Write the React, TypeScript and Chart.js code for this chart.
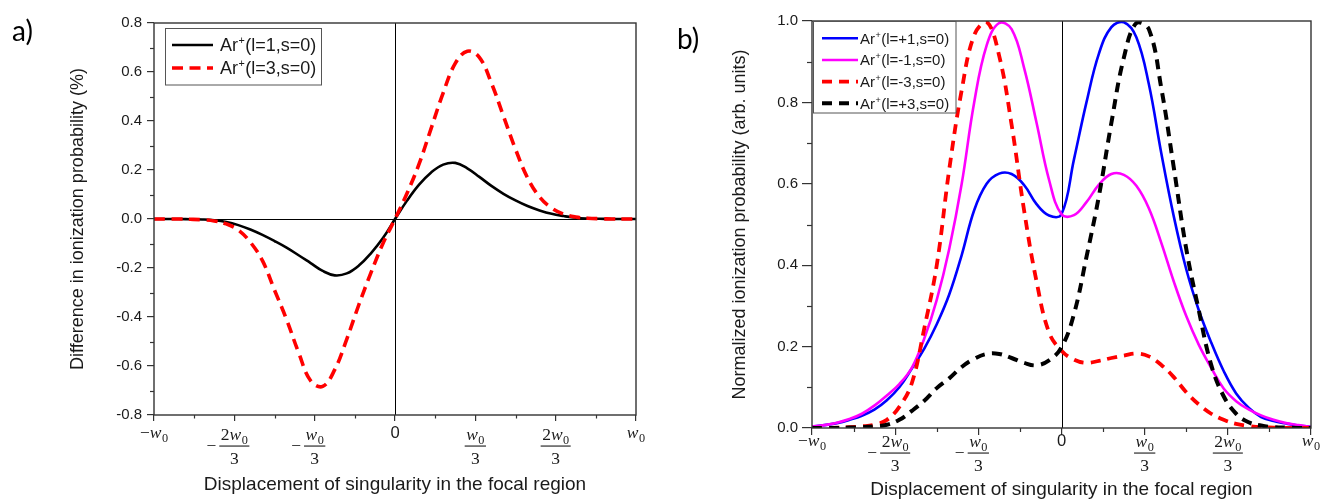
import React, { useEffect, useRef } from 'react';
import { Chart, registerables } from 'chart.js';

Chart.register(...registerables);

// ---------------- data ----------------
const X_VALUES = [
  -1, -0.95, -0.9, -0.85, -0.8, -0.75, -0.7, -0.65, -0.6, -0.55, -0.5, -0.45, -0.4, -0.35, -0.3, -0.25, -0.2, -0.15, -0.1, -0.05,
  0, 0.05, 0.1, 0.15, 0.2, 0.25, 0.3, 0.35, 0.4, 0.45, 0.5, 0.55, 0.6, 0.65, 0.7, 0.75, 0.8, 0.85, 0.9, 0.95, 1,
];

// x tick positions (units of w0) and their labels (sign, numerator, denominator)
const X_TICKS = [-1, -2 / 3, -1 / 3, 0, 1 / 3, 2 / 3, 1];
const X_TICK_SIGN = ['−', '−', '−', '', '', '', ''];
const X_TICK_NUM = ['w0', '2w0', 'w0', '0', 'w0', '2w0', 'w0'];
const X_TICK_DEN = ['', '3', '3', '', '3', '3', ''];

const A_Y_TICKS = [-0.8, -0.6, -0.4, -0.2, 0, 0.2, 0.4, 0.6, 0.8];
const B_Y_TICKS = [0, 0.2, 0.4, 0.6, 0.8, 1.0];

const X_TITLE = 'Displacement of singularity in the focal region';
const A_Y_TITLE = 'Difference in ionization probability (%)';
const B_Y_TITLE = 'Normalized ionization probability (arb. units)';

const A_LABELS = ['Ar+(l=1,s=0)', 'Ar+(l=3,s=0)'];
const B_LABELS = ['Ar+(l=+1,s=0)', 'Ar+(l=-1,s=0)', 'Ar+(l=-3,s=0)', 'Ar+(l=+3,s=0)'];

// panel a) difference in ionization probability (%)
const A_L1 = [
  0, 0, 0, -0.001, -0.002, -0.005, -0.012, -0.025, -0.043, -0.065, -0.09, -0.117, -0.148, -0.18, -0.212, -0.23, -0.222, -0.19, -0.14, -0.078,
  0, 0.075, 0.14, 0.19, 0.222, 0.229, 0.207, 0.172, 0.135, 0.103, 0.076, 0.053, 0.035, 0.021, 0.012, 0.005, 0.002, 0.001, 0, 0, 0,
];
const A_L3 = [
  0, 0, 0, -0.001, -0.003, -0.008, -0.02, -0.045, -0.095, -0.17, -0.29, -0.41, -0.545, -0.66, -0.683, -0.615, -0.49, -0.35, -0.22, -0.1,
  0, 0.105, 0.225, 0.37, 0.515, 0.635, 0.685, 0.66, 0.555, 0.42, 0.285, 0.168, 0.09, 0.045, 0.02, 0.008, 0.003, 0.001, 0, 0, 0,
];

// panel b) normalized ionization probability
const B_LP1 = [
  0.004, 0.007, 0.012, 0.02, 0.03, 0.045, 0.068, 0.1, 0.146, 0.195, 0.255, 0.328, 0.425, 0.535, 0.6, 0.625, 0.624, 0.597, 0.55, 0.522,
  0.525, 0.66, 0.8, 0.92, 0.985, 0.997, 0.96, 0.845, 0.675, 0.52, 0.39, 0.29, 0.21, 0.14, 0.085, 0.05, 0.027, 0.017, 0.011, 0.006, 0.003,
];
const B_LM1 = [
  0.004, 0.007, 0.013, 0.022, 0.035, 0.055, 0.08, 0.108, 0.148, 0.22, 0.315, 0.44, 0.6, 0.8, 0.94, 0.995, 0.98, 0.885, 0.75, 0.61,
  0.525, 0.523, 0.555, 0.598, 0.624, 0.622, 0.595, 0.54, 0.455, 0.36, 0.275, 0.205, 0.148, 0.097, 0.066, 0.046, 0.031, 0.02, 0.012, 0.007, 0.003,
];
const B_LM3 = [
  0, 0, 0.001, 0.002, 0.004, 0.008, 0.02, 0.052, 0.11, 0.245, 0.4, 0.635, 0.83, 0.965, 0.998, 0.915, 0.745, 0.535, 0.36, 0.235,
  0.19, 0.168, 0.16, 0.165, 0.172, 0.178, 0.183, 0.176, 0.155, 0.125, 0.088, 0.058, 0.035, 0.02, 0.01, 0.005, 0.002, 0.001, 0, 0, 0,
];
const B_LP3 = [
  0, 0, 0, 0.001, 0.002, 0.004, 0.008, 0.02, 0.042, 0.067, 0.098, 0.122, 0.15, 0.17, 0.182, 0.182, 0.172, 0.16, 0.154, 0.166,
  0.198, 0.28, 0.42, 0.57, 0.75, 0.91, 0.995, 0.98, 0.835, 0.64, 0.44, 0.29, 0.155, 0.078, 0.035, 0.014, 0.006, 0.002, 0.001, 0, 0,
];

// ---------------- styling ----------------
const SANS = '"Liberation Sans", Arial, sans-serif';
const SERIF = '"Liberation Serif", "DejaVu Serif", serif';
const INK = '#1a1a1a';

type Series = { label: string; data: number[]; color: string; width: number; dash: number[]; order: number };
type Panel = {
  letter: string; letterX: number; letterBase: number;
  yMin: number; yMax: number; yTicks: number[];
  yTitle: string; yTitlePad: number; yTitleSize: number; xTitlePad: number;
  pad: { left: number; top: number; right: number; bottom: number };
  yAxisWidth: number; xAxisHeight: number;
  majorY: number; minorY: number; majorX: number; minorX: number; yLabelPad: number;
  hLine: boolean;
  legend: { x: number; y: number; w: number; h: number; rows: number[]; x0: number; x1: number; tx: number; font: number };
  math: { size: number; plainBase: number; numBase: number; barY: number; denBase: number };
  series: Series[];
};

const PANEL_A: Panel = {
  letter: 'a)', letterX: 12, letterBase: 41,
  yMin: -0.8, yMax: 0.8, yTicks: A_Y_TICKS,
  yTitle: A_Y_TITLE, yTitlePad: 69, yTitleSize: 18, xTitlePad: 5,
  pad: { left: 0, top: 23, right: 24, bottom: 0 },
  yAxisWidth: 154, xAxisHeight: 84,
  majorY: 7, minorY: 4, majorX: 6, minorX: 3.5, yLabelPad: 5,
  hLine: true,
  legend: { x: 165.5, y: 28.5, w: 156, h: 56.5, rows: [45, 68], x0: 172, x1: 213, tx: 220, font: 18 },
  math: { size: 17.5, plainBase: 438, numBase: 440, barY: 446, denBase: 464 },
  series: [
    { label: A_LABELS[0], data: A_L1, color: '#000000', width: 2.6, dash: [], order: 2 },
    { label: A_LABELS[1], data: A_L3, color: '#ff0000', width: 3.6, dash: [11, 6.5], order: 1 },
  ],
};

const PANEL_B: Panel = {
  letter: 'b)', letterX: 17, letterBase: 49,
  yMin: 0, yMax: 1, yTicks: B_Y_TICKS,
  yTitle: B_Y_TITLE, yTitlePad: 71, yTitleSize: 18, xTitlePad: 0,
  pad: { left: 0, top: 21, right: 9, bottom: 0 },
  yAxisWidth: 152, xAxisHeight: 71,
  majorY: 10, minorY: 5, majorX: 7, minorX: 4, yLabelPad: 4,
  hLine: false,
  legend: { x: 153.5, y: 21.5, w: 142.5, h: 91.5, rows: [38.3, 60, 81.7, 103.3], x0: 162, x1: 198, tx: 200, font: 15 },
  math: { size: 17.5, plainBase: 446, numBase: 447, barY: 453, denBase: 471 },
  series: [
    { label: B_LABELS[0], data: B_LP1, color: '#0000ff', width: 2.6, dash: [], order: 4 },
    { label: B_LABELS[1], data: B_LM1, color: '#ff00ff', width: 2.6, dash: [], order: 3 },
    { label: B_LABELS[2], data: B_LM3, color: '#ff0000', width: 3.8, dash: [10, 7], order: 2 },
    { label: B_LABELS[3], data: B_LP3, color: '#000000', width: 4, dash: [10, 7], order: 1 },
  ],
};

// ---------------- math label helpers ----------------
type Run = { t: string; font: string; dy: number };

function mathRuns(s: string, size: number): Run[] {
  if (s === '0' || s === '3') return [{ t: s, font: `${s === '0' ? size * 0.95 : size}px ${s === '0' ? SANS : SERIF}`, dy: 0 }];
  const runs: Run[] = [];
  let seenW = false;
  for (const ch of s) {
    if (ch === 'w') {
      runs.push({ t: 'w', font: `italic ${size}px ${SERIF}`, dy: 0 });
      seenW = true;
    } else if (seenW) {
      runs.push({ t: ch, font: `${size * 0.7}px ${SERIF}`, dy: size * 0.22 });
    } else {
      runs.push({ t: ch, font: `${size}px ${SERIF}`, dy: 0 });
    }
  }
  return runs;
}

function runsWidth(ctx: CanvasRenderingContext2D, runs: Run[]) {
  let w = 0;
  for (const r of runs) {
    ctx.font = r.font;
    w += ctx.measureText(r.t).width + (r.t === 'w' ? 0.5 : 0);
  }
  return w;
}

function drawRunsAt(ctx: CanvasRenderingContext2D, runs: Run[], x: number, base: number) {
  let xx = x;
  for (const r of runs) {
    ctx.font = r.font;
    ctx.fillText(r.t, xx, base + r.dy);
    xx += ctx.measureText(r.t).width + (r.t === 'w' ? 0.5 : 0);
  }
}

function fmtTick(v: number) {
  const r = Math.round(v * 10) / 10;
  return (Math.abs(r) < 1e-9 ? 0 : r).toFixed(1);
}

function makeChart(canvas: HTMLCanvasElement, p: Panel) {
  const extras = {
    id: 'extras',
    beforeDatasetsDraw(chart: any) {
      const { ctx, chartArea: a, scales } = chart;
      ctx.save();
      ctx.strokeStyle = '#000';
      ctx.lineWidth = 1;
      const x0 = Math.round(scales.x.getPixelForValue(0)) + 0.5;
      ctx.beginPath();
      ctx.moveTo(x0, a.top);
      ctx.lineTo(x0, a.bottom);
      ctx.stroke();
      if (p.hLine) {
        const y0 = Math.round(scales.y.getPixelForValue(0)) + 0.5;
        ctx.beginPath();
        ctx.moveTo(a.left, y0);
        ctx.lineTo(a.right, y0);
        ctx.stroke();
      }
      ctx.restore();
    },
    afterDraw(chart: any) {
      const { ctx, chartArea: a, scales } = chart;
      const xs = scales.x;
      const ys = scales.y;
      ctx.save();
      // frame
      ctx.setLineDash([]);
      ctx.strokeStyle = '#333';
      ctx.lineWidth = 1.4;
      ctx.strokeRect(a.left, a.top, a.right - a.left, a.bottom - a.top);
      // minor ticks
      ctx.lineWidth = 1.2;
      for (let i = 0; i < p.yTicks.length - 1; i++) {
        const py = Math.round(ys.getPixelForValue((p.yTicks[i] + p.yTicks[i + 1]) / 2)) + 0.5;
        ctx.beginPath();
        ctx.moveTo(a.left - p.minorY, py);
        ctx.lineTo(a.left, py);
        ctx.stroke();
      }
      for (let i = 0; i < X_TICKS.length - 1; i++) {
        const px = Math.round(xs.getPixelForValue((X_TICKS[i] + X_TICKS[i + 1]) / 2)) + 0.5;
        ctx.beginPath();
        ctx.moveTo(px, a.bottom);
        ctx.lineTo(px, a.bottom + p.minorX);
        ctx.stroke();
      }
      // x tick labels (fractions of w0)
      ctx.fillStyle = INK;
      ctx.textAlign = 'left';
      ctx.textBaseline = 'alphabetic';
      const m = p.math;
      X_TICKS.forEach((v, i) => {
        const cx = xs.getPixelForValue(v);
        const sign = X_TICK_SIGN[i];
        const num = X_TICK_NUM[i];
        const den = X_TICK_DEN[i];
        if (!den) {
          const runs: Run[] = [];
          if (sign) runs.push({ t: sign, font: `${m.size}px ${SERIF}`, dy: 0 });
          runs.push(...mathRuns(num, m.size));
          const w = runsWidth(ctx, runs);
          drawRunsAt(ctx, runs, cx - w / 2, m.plainBase);
        } else {
          const nr = mathRuns(num, m.size);
          const dr = mathRuns(den, m.size);
          const nw = runsWidth(ctx, nr);
          const dw = runsWidth(ctx, dr);
          const bw = Math.max(nw, dw) + 3;
          drawRunsAt(ctx, nr, cx - nw / 2, m.numBase);
          drawRunsAt(ctx, dr, cx - dw / 2, m.denBase);
          ctx.fillRect(cx - bw / 2, m.barY - 0.5, bw, 1.1);
          if (sign) {
            ctx.font = `${m.size}px ${SERIF}`;
            const sw = ctx.measureText(sign).width;
            ctx.fillText(sign, cx - bw / 2 - 3 - sw, m.barY + m.size * 0.27);
          }
        }
      });
      // legend
      const L = p.legend;
      ctx.fillStyle = '#fff';
      ctx.fillRect(L.x, L.y, L.w, L.h);
      ctx.strokeStyle = '#555';
      ctx.lineWidth = 1;
      ctx.strokeRect(L.x, L.y, L.w, L.h);
      p.series.forEach((s, i) => {
        const ry = L.rows[i];
        ctx.strokeStyle = s.color;
        ctx.lineWidth = s.width;
        ctx.lineCap = 'butt';
        ctx.setLineDash(s.dash);
        ctx.beginPath();
        ctx.moveTo(L.x0, ry);
        ctx.lineTo(L.x1, ry);
        ctx.stroke();
        ctx.setLineDash([]);
        const k = s.label.indexOf('+');
        const head = s.label.slice(0, k);
        const tail = s.label.slice(k + 1);
        const fs = L.font;
        const base = ry + fs * 0.36;
        ctx.fillStyle = INK;
        ctx.font = `${fs}px ${SANS}`;
        ctx.fillText(head, L.tx, base);
        let xx = L.tx + ctx.measureText(head).width + 0.5;
        ctx.font = `${fs * 0.6}px ${SANS}`;
        ctx.fillText('+', xx, base - fs * 0.4);
        xx += ctx.measureText('+').width + 0.5;
        ctx.font = `${fs}px ${SANS}`;
        ctx.fillText(tail, xx, base);
      });
      // panel letter
      ctx.fillStyle = '#000';
      ctx.font = `28px Lato, "Open Sans", sans-serif`;
      ctx.fillText(p.letter, p.letterX, p.letterBase);
      ctx.restore();
    },
  };

  return new Chart(canvas, {
    type: 'line',
    data: {
      datasets: p.series.map((s) => ({
        label: s.label,
        data: X_VALUES.map((x, i) => ({ x, y: s.data[i] })),
        borderColor: s.color,
        backgroundColor: s.color,
        borderWidth: s.width,
        borderDash: s.dash,
        borderCapStyle: 'butt',
        borderJoinStyle: 'round',
        pointRadius: 0,
        fill: false,
        tension: 0.4,
        order: s.order,
      })),
    },
    options: {
      animation: false,
      responsive: false,
      devicePixelRatio: 1,
      events: [],
      layout: { padding: p.pad },
      plugins: { legend: { display: false }, tooltip: { enabled: false }, title: { display: false } },
      scales: {
        x: {
          type: 'linear',
          min: -1,
          max: 1,
          afterBuildTicks: (s: any) => {
            s.ticks = X_TICKS.map((v) => ({ value: v }));
          },
          afterFit: (s: any) => {
            s.height = p.xAxisHeight;
          },
          ticks: { display: false },
          grid: { display: true, drawOnChartArea: false, drawTicks: true, tickLength: p.majorX, color: '#333', lineWidth: 1.2 },
          border: { display: false },
          title: {
            display: true,
            text: X_TITLE,
            color: INK,
            font: { family: SANS, size: 19, lineHeight: 1 },
            padding: { top: 0, bottom: p.xTitlePad },
          },
        },
        y: {
          type: 'linear',
          min: p.yMin,
          max: p.yMax,
          afterBuildTicks: (s: any) => {
            s.ticks = p.yTicks.map((v) => ({ value: v }));
          },
          afterFit: (s: any) => {
            s.width = p.yAxisWidth;
          },
          ticks: {
            color: INK,
            font: { family: SANS, size: 15 },
            padding: p.yLabelPad,
            callback: (v: any) => fmtTick(Number(v)),
          },
          grid: { display: true, drawOnChartArea: false, drawTicks: true, tickLength: p.majorY, color: '#333', lineWidth: 1.2 },
          border: { display: false },
          title: {
            display: true,
            text: p.yTitle,
            color: INK,
            font: { family: SANS, size: p.yTitleSize, lineHeight: 1 },
            padding: { top: p.yTitlePad, bottom: 0 },
          },
        },
      },
    },
    plugins: [extras],
  } as any);
}

export default function App() {
  const aRef = useRef<HTMLCanvasElement>(null);
  const bRef = useRef<HTMLCanvasElement>(null);
  useEffect(() => {
    const ca = makeChart(aRef.current as HTMLCanvasElement, PANEL_A);
    const cb = makeChart(bRef.current as HTMLCanvasElement, PANEL_B);
    return () => {
      ca.destroy();
      cb.destroy();
    };
  }, []);
  return (
    <div style={{ position: 'absolute', left: 0, top: 0, width: 1320, height: 499, background: '#fff', overflow: 'hidden' }}>
      <canvas ref={aRef} width={660} height={499} style={{ position: 'absolute', left: 0, top: 0, width: 660, height: 499 }} />
      <canvas ref={bRef} width={660} height={499} style={{ position: 'absolute', left: 660, top: 0, width: 660, height: 499 }} />
    </div>
  );
}
